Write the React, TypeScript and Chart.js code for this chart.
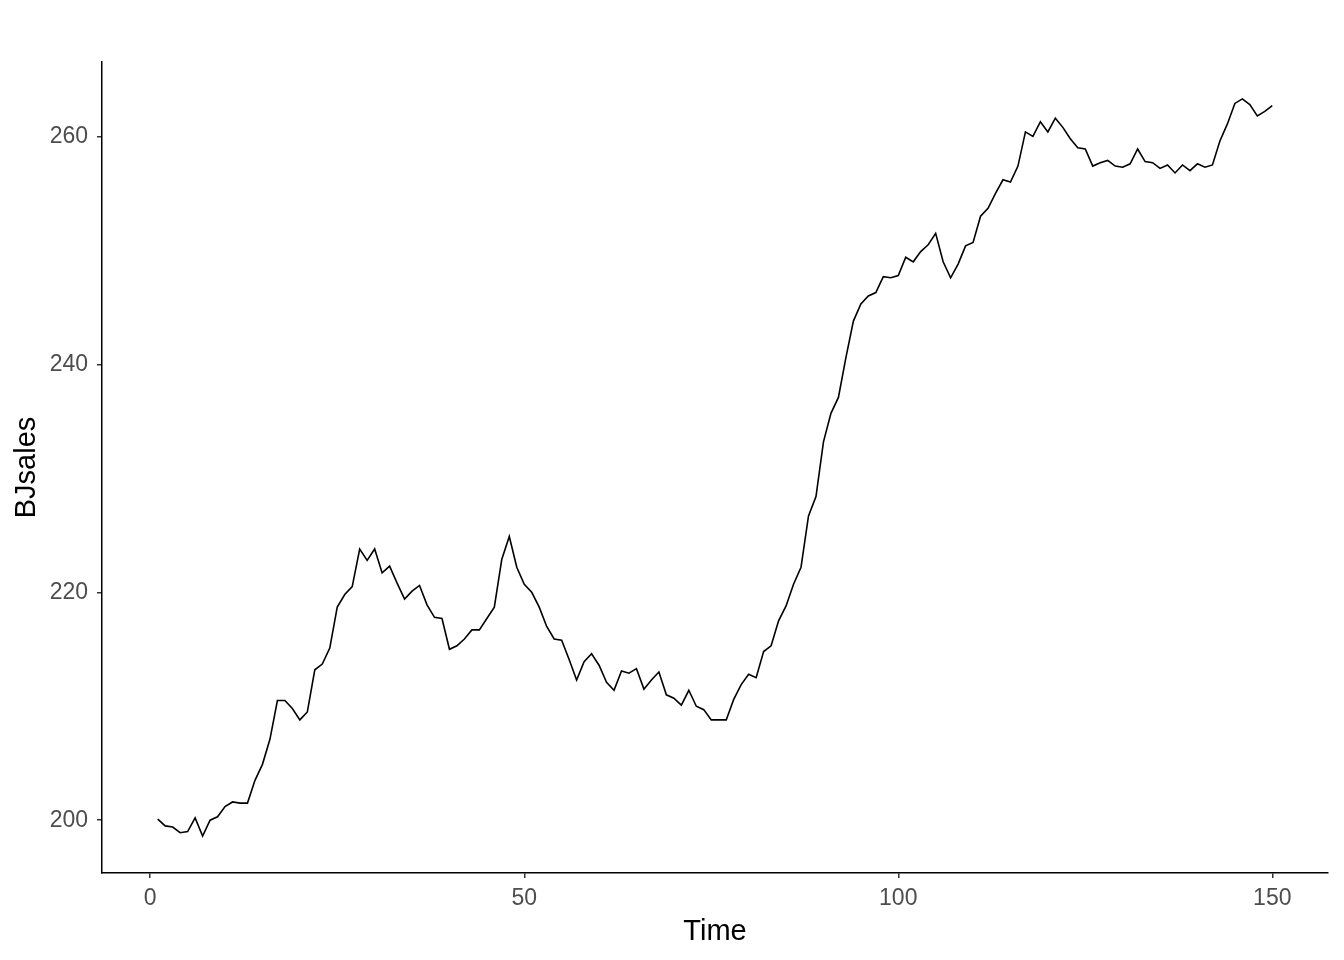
import React, { useEffect, useRef } from "react";
import { Chart, registerables } from "chart.js";

Chart.register(...registerables);

const timeStart = 1;
const bjSales: number[] = [
  200.1, 199.5, 199.4, 198.9, 199.0, 200.2, 198.6, 200.0, 200.3, 201.2,
  201.6, 201.5, 201.5, 203.5, 204.9, 207.1, 210.5, 210.5, 209.8, 208.8,
  209.5, 213.2, 213.7, 215.1, 218.7, 219.8, 220.5, 223.8, 222.8, 223.8,
  221.7, 222.3, 220.8, 219.4, 220.1, 220.6, 218.9, 217.8, 217.7, 215.0,
  215.3, 215.9, 216.7, 216.7, 217.7, 218.7, 222.9, 224.9, 222.2, 220.7,
  220.0, 218.7, 217.0, 215.9, 215.8, 214.1, 212.3, 213.9, 214.6, 213.6,
  212.1, 211.4, 213.1, 212.9, 213.3, 211.5, 212.3, 213.0, 211.0, 210.7,
  210.1, 211.4, 210.0, 209.7, 208.8, 208.8, 208.8, 210.6, 211.9, 212.8,
  212.5, 214.8, 215.3, 217.5, 218.8, 220.7, 222.2, 226.7, 228.4, 233.2,
  235.7, 237.1, 240.6, 243.8, 245.3, 246.0, 246.3, 247.7, 247.6, 247.8,
  249.4, 249.0, 249.9, 250.5, 251.5, 249.0, 247.6, 248.8, 250.4, 250.7,
  253.0, 253.7, 255.0, 256.2, 256.0, 257.4, 260.4, 260.0, 261.3, 260.4,
  261.6, 260.8, 259.8, 259.0, 258.9, 257.4, 257.7, 257.9, 257.4, 257.3,
  257.6, 258.9, 257.8, 257.7, 257.2, 257.5, 256.8, 257.5, 257.0, 257.6,
  257.3, 257.5, 259.6, 261.1, 262.9, 263.3, 262.8, 261.8, 262.2, 262.7,
];
const xTicks = [0, 50, 100, 150];
const yTicks = [200, 220, 240, 260];

const FONT = "Arial, 'Liberation Sans', sans-serif";

export default function App() {
  const ref = useRef<HTMLCanvasElement>(null);
  useEffect(() => {
    if (!ref.current) return;
    const pts = bjSales.map((v, i) => ({ x: timeStart + i, y: v }));
    const xs = pts.map((p) => p.x);
    const xmin = Math.min(...xs), xmax = Math.max(...xs);
    const ymin = Math.min(...bjSales), ymax = Math.max(...bjSales);
    const xpad = (xmax - xmin) * 0.05;
    const ypad = (ymax - ymin) * 0.05;
    const gridOpts = {
      display: true,
      drawOnChartArea: false,
      drawTicks: true,
      tickLength: 5,
      tickColor: "#333333",
      tickWidth: 1.5,
      color: "#333333",
      lineWidth: 1.5,
    };
    const chart = new Chart(ref.current, {
      type: "line",
      data: {
        datasets: [
          {
            data: pts,
            borderColor: "#000000",
            borderWidth: 1.6,
            pointRadius: 0,
            tension: 0,
            fill: false,
          },
        ],
      },
      options: {
        animation: false,
        responsive: false,
        maintainAspectRatio: false,
        layout: { padding: { top: 62, right: 16, left: 0, bottom: 0 } },
        plugins: { legend: { display: false }, tooltip: { enabled: false } },
        scales: {
          x: {
            type: "linear",
            min: xmin - xpad,
            max: xmax + xpad,
            afterBuildTicks: (s: any) => {
              s.ticks = xTicks.map((v) => ({ value: v }));
            },
            afterFit: (s: any) => {
              s.height = 87;
            },
            grid: gridOpts as any,
            border: { display: true, color: "#000000", width: 1.5 },
            ticks: {
              color: "#4D4D4D",
              font: { family: FONT, size: 23 },
              padding: 7,
              maxRotation: 0,
            },
            title: {
              display: true,
              text: "Time",
              color: "#000000",
              font: { family: FONT, size: 29 },
              padding: { top: 0, bottom: 11 },
            },
          },
          y: {
            type: "linear",
            min: ymin - ypad,
            max: ymax + ypad,
            afterBuildTicks: (s: any) => {
              s.ticks = yTicks.map((v) => ({ value: v }));
            },
            afterFit: (s: any) => {
              s.width = 102;
            },
            grid: gridOpts as any,
            border: { display: true, color: "#000000", width: 1.5 },
            ticks: {
              color: "#4D4D4D",
              font: { family: FONT, size: 23 },
              padding: 9,
            },
            title: {
              display: true,
              text: "BJsales",
              color: "#000000",
              font: { family: FONT, size: 29 },
              padding: { top: 10, bottom: 0 },
            },
          },
        },
      },
    });
    return () => chart.destroy();
  }, []);
  return (
    <div style={{ position: "absolute", left: 0, top: 0, width: 1344, height: 960, background: "#fff" }}>
      <canvas ref={ref} width={1344} height={960} style={{ width: 1344, height: 960 }} />
    </div>
  );
}
